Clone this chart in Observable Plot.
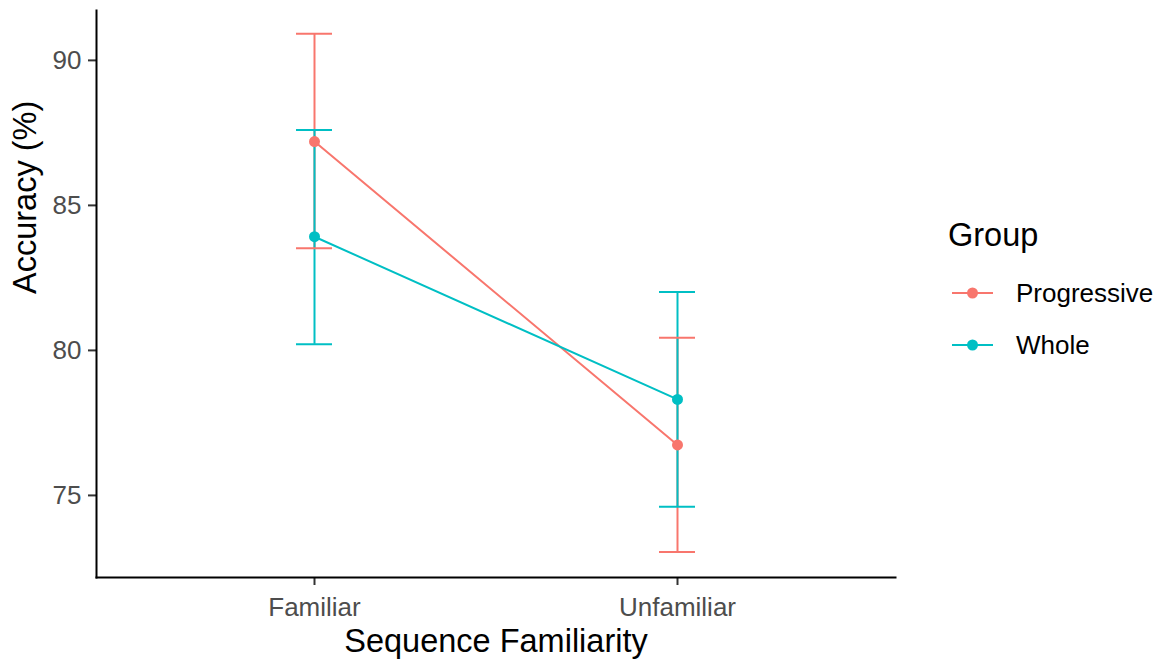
<!DOCTYPE html>
<html>
<head>
<meta charset="utf-8">
<script src="https://cdn.jsdelivr.net/npm/d3@7"></script>
<script src="https://cdn.jsdelivr.net/npm/@observablehq/plot@0.6"></script>
<style>
  html, body { margin: 0; padding: 0; background: #fff; }
  svg g[aria-label$="tick label"] { fill: #4d4d4d; }
</style>
</head>
<body>
<div id="chart"></div>
<script>
const conditions = ["Familiar", "Unfamiliar"];
const groups = ["Progressive", "Whole"];
const groupColors = ["#F8766D", "#00BFC4"];
const progressiveMean = [87.2, 76.74];
const progressiveLow = [83.52, 73.05];
const progressiveHigh = [90.92, 80.44];
const wholeMean = [83.92, 78.31];
const wholeLow = [80.21, 74.61];
const wholeHigh = [87.6, 82.01];
const yTicks = [75, 80, 85, 90];
const xTitle = "Sequence Familiarity";
const yTitle = "Accuracy (%)";
const legendTitle = "Group";

const rows = [];
conditions.forEach((c, i) => {
  rows.push({Group: groups[0], cond: c, mean: progressiveMean[i], lo: progressiveLow[i], hi: progressiveHigh[i]});
});
conditions.forEach((c, i) => {
  rows.push({Group: groups[1], cond: c, mean: wholeMean[i], lo: wholeLow[i], hi: wholeHigh[i]});
});

const font = "Liberation Sans, Arial, sans-serif";

const chart = Plot.plot({
  width: 1161,
  height: 661,
  marginTop: 10,
  marginBottom: 84,
  marginLeft: 96,
  marginRight: 266,
  style: {fontFamily: font, background: "white", overflow: "visible"},
  x: {type: "band", domain: conditions, paddingInner: 0.9009, paddingOuter: 0.5505},
  y: {domain: [72.17, 91.72]},
  color: {domain: groups, range: groupColors},
  marks: [
    Plot.axisY({ticks: yTicks, tickSize: 8, tickPadding: 7, fontSize: 26, label: null, stroke: "#333", strokeWidth: 2}),
    Plot.axisX({tickSize: 8, tickPadding: 12, fontSize: 26, label: null, stroke: "#333", strokeWidth: 2}),
    Plot.frame({anchor: "left", stroke: "black", strokeWidth: 2}),
    Plot.frame({anchor: "bottom", stroke: "black", strokeWidth: 2}),
    Plot.ruleX(rows, {x: "cond", y1: "lo", y2: "hi", stroke: "Group", strokeWidth: 2}),
    Plot.tickY(rows, {x: "cond", y: "lo", stroke: "Group", strokeWidth: 2}),
    Plot.tickY(rows, {x: "cond", y: "hi", stroke: "Group", strokeWidth: 2}),
    Plot.line(rows, {x: "cond", y: "mean", z: "Group", stroke: "Group", strokeWidth: 2}),
    Plot.dot(rows, {x: "cond", y: "mean", fill: "Group", r: 5.5}),
    Plot.text([xTitle], {text: d => d, frameAnchor: "bottom", dy: 74, lineAnchor: "bottom", fontSize: 32.5, fill: "black"}),
    Plot.text([yTitle], {text: d => d, frameAnchor: "left", dx: -61, rotate: -90, lineAnchor: "bottom", fontSize: 32.5, fill: "black"})
  ]
});

document.getElementById("chart").appendChild(chart);

// Legend
const color = chart.scale("color");
const svg = d3.select(chart);
const lg = svg.append("g").attr("font-family", font).attr("text-anchor", "start");
lg.append("text").attr("x", 948).attr("y", 246).attr("font-size", 32.5).attr("fill", "black").text(legendTitle);
color.domain.forEach((g, i) => {
  const cy = 293 + i * 52;
  const col = color.apply(g);
  lg.append("line").attr("x1", 952).attr("x2", 993).attr("y1", cy).attr("y2", cy)
    .attr("stroke", col).attr("stroke-width", 2);
  lg.append("circle").attr("cx", 972.5).attr("cy", cy).attr("r", 5.5).attr("fill", col);
  lg.append("text").attr("x", 1016).attr("y", cy).attr("dy", "0.35em")
    .attr("font-size", 26).attr("fill", "black").text(g);
});
</script>
</body>
</html>
